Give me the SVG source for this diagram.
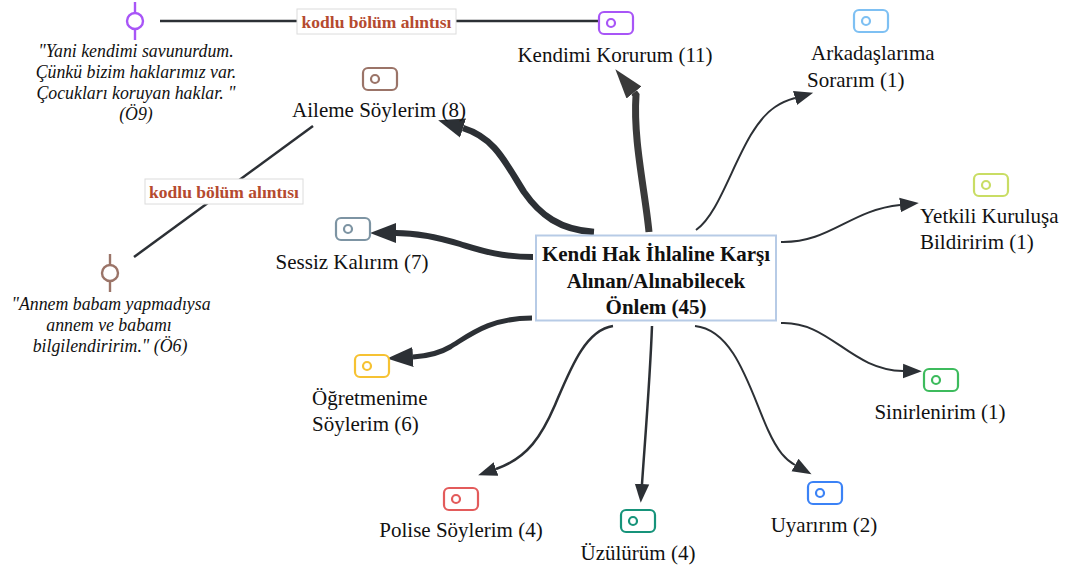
<svg xmlns="http://www.w3.org/2000/svg" width="1077" height="572" viewBox="0 0 1077 572" font-family="'Liberation Serif', 'Times New Roman', serif">
<style>
  text { font-family: "Liberation Serif", "Times New Roman", serif; fill: #111; }
  .lbl { font-size: 21px; }
  .mid { text-anchor: middle; }
  .quote { font-size: 17.8px; font-style: italic; text-anchor: middle; }
  .center { font-size: 21px; font-weight: bold; text-anchor: middle; }
  .tagbox { fill: #fff; stroke-width: 2.2; }
  .tagdot { fill: none; stroke-width: 2.2; }
  .conn { fill: none; stroke: #2c3035; stroke-linecap: butt; }
  .link { fill: none; stroke: #2c3035; stroke-width: 2.5; }
  .qbox { fill: #fff; stroke: #dcdcdc; stroke-width: 1; }
  .qlbl { font-size: 17.5px; font-weight: bold; fill: #b54a2f; text-anchor: middle; }
  .qicon { fill: #fff; stroke-width: 2.4; }
</style>
<defs>
  <marker id="headBig" markerUnits="userSpaceOnUse" markerWidth="30" markerHeight="24" refX="0" refY="10" orient="auto" viewBox="0 0 30 20">
    <path d="M0,0 L26,10 L0,20 z" fill="#2c3035"/>
  </marker>
  <marker id="headTop" markerUnits="userSpaceOnUse" markerWidth="32" markerHeight="24" refX="0" refY="9" orient="auto" viewBox="0 0 30 18">
    <path d="M0,0 L28,9 L0,18 z" fill="#3a3a3a"/>
  </marker>
  <marker id="headSmall" markerUnits="userSpaceOnUse" markerWidth="20" markerHeight="16" refX="0" refY="6.5" orient="auto" viewBox="0 0 18 13">
    <path d="M0,0 L17,6.5 L0,13 z" fill="#2c3035"/>
  </marker>
</defs>

<g id="connectors">
  <path class="conn" d="M649,232 C645,190 633,140 636,95 L634,92.5" style="stroke:#3a3a3a" stroke-width="7" marker-end="url(#headTop)"/>
  <path class="conn" d="M594,232 C560,230 540,215 524,192 C505,162 495,138 463,128" stroke-width="6.5" marker-end="url(#headBig)"/>
  <path class="conn" d="M533,257 C500,257 480,250 460,244 C440,238 420,233 396,233" stroke-width="6" marker-end="url(#headBig)"/>
  <path class="conn" d="M532,318 C490,318 470,335 450,347 C440,353 430,356 413,357" stroke-width="5" marker-end="url(#headBig)"/>
  <path class="conn" d="M696,230 C725,210 740,130 775,107 C782,102 788,100 795,98" stroke-width="2" marker-end="url(#headSmall)"/>
  <path class="conn" d="M781,242 C830,243 850,210 900,205" stroke-width="2" marker-end="url(#headSmall)"/>
  <path class="conn" d="M781,323 C830,321 850,370 903,371" stroke-width="2" marker-end="url(#headSmall)"/>
  <path class="conn" d="M695,326 C735,330 750,390 768,430 C778,452 786,460 795,465" stroke-width="2" marker-end="url(#headSmall)"/>
  <path class="conn" d="M652,326 C650,380 645,440 642,484" stroke-width="2.5" marker-end="url(#headSmall)"/>
  <path class="conn" d="M613,326 C585,330 570,370 555,405 C542,435 528,458 496,469" stroke-width="2.5" marker-end="url(#headSmall)"/>
  <g id="quote-link-1">
    <line class="link" x1="160" y1="21" x2="598" y2="21"/>
    <rect class="qbox" x="297" y="9" width="159" height="25"/>
    <text class="qlbl" x="376.5" y="27.5">kodlu bölüm alıntısı</text>
  </g>
  <g id="quote-link-2">
    <line class="link" x1="313" y1="126" x2="134" y2="257"/>
    <rect class="qbox" x="145" y="179" width="158" height="25"/>
    <text class="qlbl" x="224" y="197.5">kodlu bölüm alıntısı</text>
  </g>
</g>

<g id="center-node">
  <rect x="536" y="235.5" width="240" height="85" fill="#fff" stroke="#b7cbe6" stroke-width="2"/>
  <text class="center" x="656" y="261">Kendi Hak İhlaline Karşı</text>
  <text class="center" x="656" y="288">Alınan/Alınabilecek</text>
  <text class="center" x="656" y="314">Önlem (45)</text>
</g>

<g id="node-kendimi">
  <rect class="tagbox" x="599" y="12" width="34" height="22" rx="5" stroke="#a855f7"/>
  <circle class="tagdot" cx="611" cy="23" r="4" stroke="#a855f7"/>
  <text class="lbl mid" x="615" y="62">Kendimi Korurum (11)</text>
</g>
<g id="node-arkadas">
  <rect class="tagbox" x="854" y="10" width="34" height="22" rx="5" stroke="#7ec0f3"/>
  <circle class="tagdot" cx="866" cy="21" r="4" stroke="#7ec0f3"/>
  <text class="lbl" x="811" y="60">Arkadaşlarıma</text>
  <text class="lbl" x="807" y="87">Sorarım (1)</text>
</g>
<g id="node-yetkili">
  <rect class="tagbox" x="974" y="174" width="34" height="22" rx="5" stroke="#c9dd64"/>
  <circle class="tagdot" cx="986" cy="185" r="4" stroke="#c9dd64"/>
  <text class="lbl" x="920" y="223">Yetkili Kuruluşa</text>
  <text class="lbl" x="920" y="249">Bildiririm (1)</text>
</g>
<g id="node-sinir">
  <rect class="tagbox" x="924" y="369" width="34" height="22" rx="5" stroke="#3dbb5d"/>
  <circle class="tagdot" cx="936" cy="380" r="4" stroke="#3dbb5d"/>
  <text class="lbl mid" x="940" y="419">Sinirlenirim (1)</text>
</g>
<g id="node-uyar">
  <rect class="tagbox" x="808" y="482" width="34" height="22" rx="5" stroke="#3b82f6"/>
  <circle class="tagdot" cx="820" cy="493" r="4" stroke="#3b82f6"/>
  <text class="lbl mid" x="824" y="532">Uyarırım (2)</text>
</g>
<g id="node-uzulurum">
  <rect class="tagbox" x="621" y="510" width="34" height="22" rx="5" stroke="#16937a"/>
  <circle class="tagdot" cx="633" cy="521" r="4" stroke="#16937a"/>
  <text class="lbl mid" x="638" y="560">Üzülürüm (4)</text>
</g>
<g id="node-polis">
  <rect class="tagbox" x="444" y="488" width="34" height="22" rx="5" stroke="#e35b5b"/>
  <circle class="tagdot" cx="456" cy="499" r="4" stroke="#e35b5b"/>
  <text class="lbl mid" x="461" y="537">Polise Söylerim (4)</text>
</g>
<g id="node-ogretmen">
  <rect class="tagbox" x="355" y="355" width="34" height="22" rx="5" stroke="#f6c232"/>
  <circle class="tagdot" cx="367" cy="366" r="4" stroke="#f6c232"/>
  <text class="lbl" x="312" y="405">Öğretmenime</text>
  <text class="lbl" x="312" y="431">Söylerim (6)</text>
</g>
<g id="node-sessiz">
  <rect class="tagbox" x="336" y="218" width="34" height="22" rx="5" stroke="#7d94a3"/>
  <circle class="tagdot" cx="348" cy="229" r="4" stroke="#7d94a3"/>
  <text class="lbl mid" x="352" y="269">Sessiz Kalırım (7)</text>
</g>
<g id="node-aileme">
  <rect class="tagbox" x="363" y="68" width="34" height="22" rx="5" stroke="#9b7468"/>
  <circle class="tagdot" cx="375" cy="79" r="4" stroke="#9b7468"/>
  <text class="lbl mid" x="379" y="117">Aileme Söylerim (8)</text>
</g>

<g id="quote-o9">
  <line x1="135" y1="2" x2="135" y2="40" stroke="#a855f7" stroke-width="2.4"/>
  <circle class="qicon" cx="135" cy="21" r="8" stroke="#a855f7"/>
  <text class="quote" x="136" y="57">"Yani kendimi savunurdum.</text>
  <text class="quote" x="136" y="78">Çünkü bizim haklarımız var.</text>
  <text class="quote" x="136" y="99">Çocukları koruyan haklar. "</text>
  <text class="quote" x="136" y="120">(Ö9)</text>
</g>
<g id="quote-o6">
  <line x1="110" y1="254" x2="110" y2="292" stroke="#9b7468" stroke-width="2.4"/>
  <circle class="qicon" cx="110" cy="273" r="8" stroke="#9b7468"/>
  <text class="quote" x="111" y="310">"Annem babam yapmadıysa</text>
  <text class="quote" x="109" y="331">annem ve babamı</text>
  <text class="quote" x="110" y="352">bilgilendiririm." (Ö6)</text>
</g>
</svg>
